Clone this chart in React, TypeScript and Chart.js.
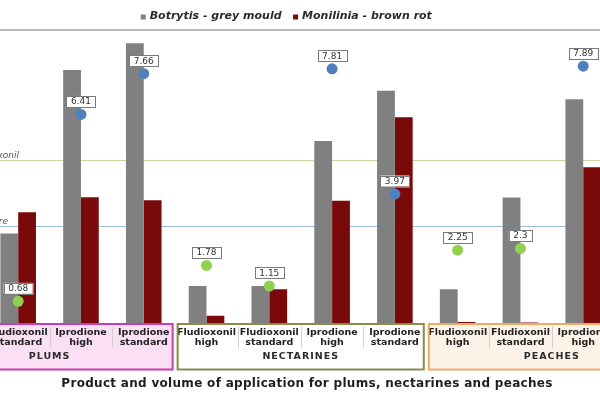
import React, { useEffect, useRef } from 'react';
import { Chart, registerables } from 'chart.js';

Chart.register(...registerables);

// ---------- data ----------
const categoryLabels: string[][] = [
  ['Fludioxonil', 'high'], ['Fludioxonil', 'standard'], ['Iprodione', 'high'], ['Iprodione', 'standard'],
  ['Fludioxonil', 'high'], ['Fludioxonil', 'standard'], ['Iprodione', 'high'], ['Iprodione', 'standard'],
  ['Fludioxonil', 'high'], ['Fludioxonil', 'standard'], ['Iprodione', 'high'], ['Iprodione', 'standard'],
];
const groupLabels = ['PLUMS', 'NECTARINES', 'PEACHES'];
const groupSize = 4;
const seriesNames = ['Botrytis - grey mould', 'Monilinia - brown rot'];
// bar values (first and last categories lie outside the visible crop)
const botrytis = [null, 30.7, 86.4, 95.5, 12.8, 12.8, 62.2, 79.3, 11.7, 42.9, 76.4, null];
const monilinia = [null, 37.9, 43.0, 42.0, 2.6, 11.7, 41.8, 70.3, 0.5, 0.3, 53.2, null];
const residues = [null, 0.68, 6.41, 7.66, 1.78, 1.15, 7.81, 3.97, 2.25, 2.3, 7.89, null];
const limitNames = ['MRL Fludioxonil', 'Iprodione MRL - Singapore'];
const limitValues = [5, 3];
const chartTitle = 'Product and volume of application for plums, nectarines and peaches';

// ---------- styles ----------
const FONT = '"DejaVu Sans", "Liberation Sans", Arial, sans-serif';
const GRAY = '#808080';
const RED = '#7a0909';
const GREEN_DOT = '#92d050';
const BLUE_DOT = '#4f81bd';
const limitColors = ['#c6da9e', '#9dbcdc'];
const groupFills = ['#fbdff5', '#ffffff', '#fef3e9'];
const groupStrokes = ['#c53fb4', '#8c8a4e', '#f0aa68'];
const AXIS_H = 47;

const decorPlugin = {
  id: 'decor',
  beforeDraw(chart: any) {
    const { ctx, chartArea: a, scales } = chart;
    const x = scales.x;
    const step = x.getPixelForValue(1) - x.getPixelForValue(0);
    ctx.save();
    groupLabels.forEach((_, gi) => {
      const s = gi * groupSize;
      const x1 = x.getPixelForValue(s) - step / 2 + 2.5;
      const x2 = x.getPixelForValue(s + groupSize - 1) + step / 2 - 2.5;
      ctx.fillStyle = groupFills[gi];
      ctx.fillRect(x1, a.bottom, x2 - x1, AXIS_H);
    });
    ctx.restore();
  },
  beforeDatasetsDraw(chart: any) {
    const { ctx, chartArea: a, scales } = chart;
    const yRes = scales.yRes;
    ctx.save();
    // top border
    ctx.strokeStyle = '#a0a0a0';
    ctx.lineWidth = 1.5;
    ctx.beginPath();
    ctx.moveTo(a.left, a.top);
    ctx.lineTo(a.right, a.top);
    ctx.stroke();
    // limit lines
    const labelEnds = [95, 84];
    limitValues.forEach((v, i) => {
      const y = Math.round(yRes.getPixelForValue(v)) + 0.5;
      ctx.strokeStyle = limitColors[i];
      ctx.lineWidth = 1;
      ctx.beginPath();
      ctx.moveTo(a.left, y);
      ctx.lineTo(a.right, y);
      ctx.stroke();
      ctx.fillStyle = '#555';
      ctx.font = `italic 9px ${FONT}`;
      ctx.textAlign = 'right';
      ctx.textBaseline = 'alphabetic';
      ctx.fillText(limitNames[i], a.left + labelEnds[i], y - 3);
    });
    ctx.restore();
  },
  afterDatasetsDraw(chart: any) {
    const { ctx } = chart;
    const meta = chart.getDatasetMeta(0);
    ctx.save();
    ctx.font = `9px ${FONT}`;
    ctx.textAlign = 'center';
    ctx.textBaseline = 'middle';
    meta.data.forEach((pt: any, i: number) => {
      const v = residues[i];
      if (v === null || v === undefined) return;
      const t = String(v);
      const w = ctx.measureText(t).width + 9;
      const h = 11;
      const cx = pt.x;
      const cy = pt.y - 13;
      ctx.fillStyle = '#ffffff';
      ctx.fillRect(cx - w / 2, cy - h / 2, w, h);
      ctx.strokeStyle = '#7a7a7a';
      ctx.lineWidth = 1;
      ctx.strokeRect(Math.round(cx - w / 2) + 0.5, Math.round(cy - h / 2) + 0.5, Math.round(w), h);
      ctx.fillStyle = '#333';
      ctx.fillText(t, cx, cy + 0.5);
    });
    ctx.restore();
  },
  afterDraw(chart: any) {
    const { ctx, chartArea: a, scales } = chart;
    const x = scales.x;
    const step = x.getPixelForValue(1) - x.getPixelForValue(0);
    ctx.save();
    // separators between categories inside a group
    ctx.strokeStyle = '#cfcfcf';
    ctx.lineWidth = 1;
    for (let i = 0; i < categoryLabels.length - 1; i++) {
      if ((i + 1) % groupSize === 0) continue;
      const xb = Math.round(x.getPixelForValue(i) + step / 2) + 0.5;
      ctx.beginPath();
      ctx.moveTo(xb, a.bottom + 3);
      ctx.lineTo(xb, a.bottom + 24);
      ctx.stroke();
    }
    // group boxes + labels
    groupLabels.forEach((g, gi) => {
      const s = gi * groupSize;
      const x1 = x.getPixelForValue(s) - step / 2 + 2.5;
      const x2 = x.getPixelForValue(s + groupSize - 1) + step / 2 - 2.5;
      ctx.strokeStyle = groupStrokes[gi];
      ctx.lineWidth = 2;
      ctx.strokeRect(x1, a.bottom + 0.5, x2 - x1, AXIS_H - 1.5);
      ctx.fillStyle = '#2a2a2a';
      ctx.font = `bold 9.5px ${FONT}`;
      (ctx as any).letterSpacing = '1px';
      ctx.textAlign = 'center';
      ctx.textBaseline = 'middle';
      ctx.fillText(g, (x1 + x2) / 2, a.bottom + 33);
      (ctx as any).letterSpacing = '0px';
    });
    // legend
    ctx.font = `italic bold 11px ${FONT}`;
    ctx.textBaseline = 'middle';
    ctx.textAlign = 'left';
    const colors = [GRAY, RED];
    const widths = seriesNames.map((s) => ctx.measureText(s).width);
    const total = widths.reduce((p, c) => p + c, 0) + seriesNames.length * 9 + 11.5 * (seriesNames.length - 1);
    let cx = 396.3 - total / 2;
    seriesNames.forEach((s, i) => {
      ctx.fillStyle = colors[i];
      ctx.fillRect(cx, 14.5, 5, 5);
      ctx.fillStyle = '#2a2a2a';
      ctx.fillText(s, cx + 9, 16);
      cx += 9 + widths[i] + 11.5;
    });
    // title
    ctx.font = `bold 12px ${FONT}`;
    (ctx as any).letterSpacing = '0.3px';
    ctx.textAlign = 'center';
    ctx.fillStyle = '#1e1e1e';
    ctx.fillText(chartTitle, 417, 384);
    (ctx as any).letterSpacing = '0px';
    ctx.restore();
  },
};

export default function App() {
  const ref = useRef<HTMLCanvasElement | null>(null);
  useEffect(() => {
    if (!ref.current) return;
    const dotColors = categoryLabels.map((c) => (c[0] === 'Fludioxonil' ? GREEN_DOT : BLUE_DOT));
    const chart = new Chart(ref.current, {
      type: 'bar',
      data: {
        labels: categoryLabels,
        datasets: [
          {
            type: 'line',
            label: 'Residue',
            data: residues,
            yAxisID: 'yRes',
            showLine: false,
            pointRadius: 5.5,
            pointHoverRadius: 5.5,
            pointBackgroundColor: dotColors,
            pointBorderWidth: 0,
            borderColor: 'transparent',
            order: 0,
          } as any,
          {
            label: seriesNames[0],
            data: botrytis,
            backgroundColor: GRAY,
            yAxisID: 'y',
            categoryPercentage: 0.567,
            barPercentage: 1,
            order: 1,
          },
          {
            label: seriesNames[1],
            data: monilinia,
            backgroundColor: RED,
            yAxisID: 'y',
            categoryPercentage: 0.567,
            barPercentage: 1,
            order: 1,
          },
        ],
      },
      options: {
        responsive: false,
        animation: false,
        devicePixelRatio: 1,
        layout: { padding: { left: 34, right: 12.6, top: 30, bottom: 29.5 } },
        plugins: {
          legend: { display: false },
          title: { display: false },
          tooltip: { enabled: false },
        },
        scales: {
          x: {
            grid: { display: false, drawTicks: false },
            border: { display: false },
            ticks: {
              autoSkip: false,
              maxRotation: 0,
              minRotation: 0,
              padding: 5,
              color: '#222',
              font: { family: FONT, size: 9.5, weight: 'bold', lineHeight: 0.95 },
            },
            afterFit: (s: any) => {
              s.height = AXIS_H;
            },
          },
          y: { display: false, min: 0, max: 100 },
          yRes: { display: false, position: 'right', min: 0, max: 9 },
        },
      } as any,
      plugins: [decorPlugin],
    });
    return () => chart.destroy();
  }, []);

  return (
    <div style={{ position: 'absolute', left: 0, top: 0, width: 600, height: 400, overflow: 'hidden', background: '#fff' }}>
      <canvas ref={ref} width={800} height={400} style={{ position: 'absolute', left: -110, top: 0 }} />
    </div>
  );
}
